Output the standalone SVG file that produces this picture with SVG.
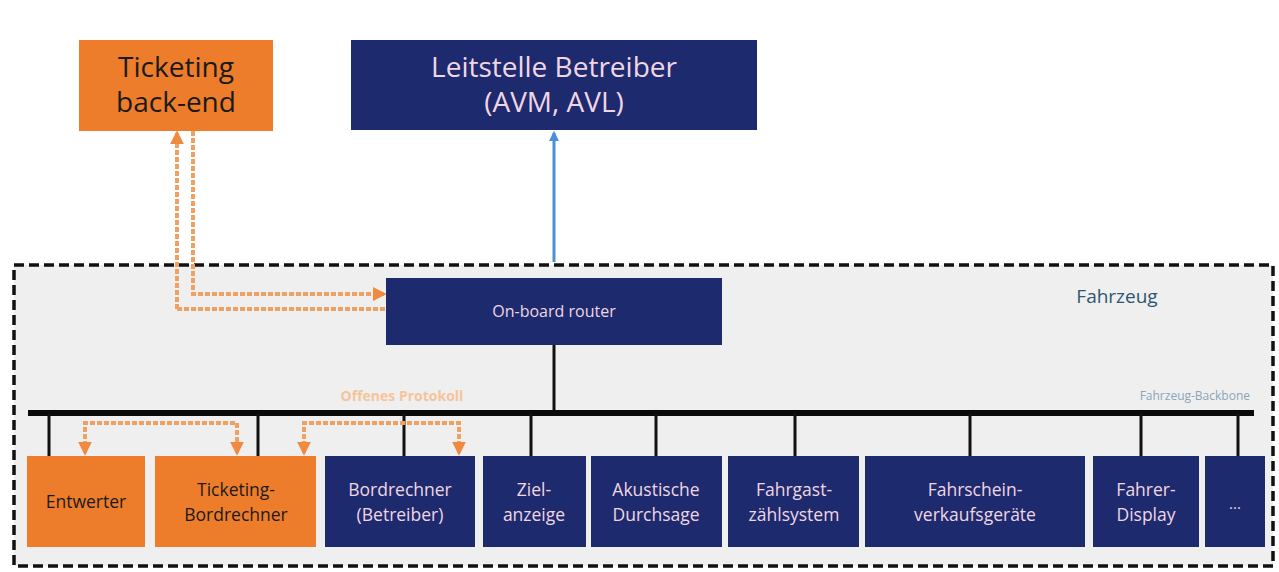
<svg xmlns="http://www.w3.org/2000/svg" width="1279" height="572" viewBox="0 0 1279 572">
<defs>
<style>
.orange{fill:#ee7d2b}
.navy{fill:#1d2a6d}
.tb{font-family:"Open Sans","Liberation Sans",sans-serif;fill:#1a1a1a;text-anchor:middle}
.tw{font-family:"Open Sans","Liberation Sans",sans-serif;fill:#f0d6e4;text-anchor:middle}
.drop{stroke:#111;stroke-width:3;fill:none}
.odot{stroke:#f0a060;stroke-width:4;fill:none;stroke-dasharray:5 2}
</style>
<marker id="oa" viewBox="0 0 10 10" refX="8" refY="5" markerWidth="3.5" markerHeight="3.5" orient="auto-start-reverse"><path d="M0,0 L10,5 L0,10 z" fill="#f08a40"/></marker>
<marker id="ba" viewBox="0 0 10 10" refX="8" refY="5" markerWidth="3.5" markerHeight="3.5" orient="auto-start-reverse"><path d="M0,0 L10,5 L0,10 z" fill="#4a8fd8"/></marker>
</defs>
<rect width="1279" height="572" fill="#ffffff"/>
<g id="fahrzeug">
<rect x="14" y="265" width="1259" height="301" fill="#efefef" stroke="#111" stroke-width="3.5" stroke-dasharray="10 5"/>
<text x="1117" y="303" font-family="'Open Sans','Liberation Sans',sans-serif" font-size="19" fill="#2d5670" text-anchor="middle">Fahrzeug</text>
<text x="1250" y="400" font-family="'Open Sans','Liberation Sans',sans-serif" font-size="12" fill="#8aa5bb" text-anchor="end">Fahrzeug-Backbone</text>
<text x="402" y="401" font-family="'Open Sans','Liberation Sans',sans-serif" font-size="14" font-weight="bold" fill="#f6c49a" text-anchor="middle">Offenes Protokoll</text>
</g>
<g id="connectors">
<line x1="554" y1="262" x2="554" y2="133" stroke="#4a8fd8" stroke-width="3" marker-end="url(#ba)"/>
<line x1="554" y1="345" x2="554" y2="412" class="drop"/>
<line x1="28" y1="413" x2="1254" y2="413" stroke="#0a0a0a" stroke-width="6"/>
<path d="M49 413V456M258 413V456M404 413V456M531 413V456M656 413V456M795 413V456M970 413V456M1141 413V456M1238 413V456" class="drop"/>
<path d="M177 309H386" class="odot"/>
<path d="M177 309V133" class="odot" marker-end="url(#oa)"/>
<path d="M193 131V294H384" class="odot" marker-end="url(#oa)"/>
<path d="M85 453V423H237V453" class="odot" marker-start="url(#oa)" marker-end="url(#oa)"/>
<path d="M304 453V423H459V453" class="odot" marker-start="url(#oa)" marker-end="url(#oa)"/>
</g>
<g id="ticketing-backend">
<rect x="79" y="40" width="194" height="91" class="orange"/>
<text class="tb" x="176" y="77" font-size="28">Ticketing</text>
<text class="tb" x="176" y="112" font-size="28">back-end</text>
</g>
<g id="leitstelle">
<rect x="351" y="40" width="406" height="90" class="navy"/>
<text class="tw" x="554" y="77" font-size="28">Leitstelle Betreiber</text>
<text class="tw" x="554" y="112" font-size="28">(AVM, AVL)</text>
</g>
<g id="router">
<rect x="386" y="278" width="336" height="67" class="navy"/>
<text class="tw" x="554" y="317" font-size="16">On-board router</text>
</g>
<g id="entwerter">
<rect x="27" y="456" width="118" height="91" class="orange"/>
<text class="tb" x="86" y="508" font-size="17.5">Entwerter</text>
</g>
<g id="ticketing-bordrechner">
<rect x="155" y="456" width="161" height="91" class="orange"/>
<text class="tb" x="236" y="496" font-size="17.5">Ticketing-</text>
<text class="tb" x="236" y="521" font-size="17.5">Bordrechner</text>
</g>
<g id="bordrechner">
<rect x="325" y="456" width="150" height="91" class="navy"/>
<text class="tw" x="400" y="496" font-size="17.5">Bordrechner</text>
<text class="tw" x="400" y="521" font-size="17.5">(Betreiber)</text>
</g>
<g id="zielanzeige">
<rect x="483" y="456" width="103" height="91" class="navy"/>
<text class="tw" x="534" y="496" font-size="17.5">Ziel-</text>
<text class="tw" x="534" y="521" font-size="17.5">anzeige</text>
</g>
<g id="durchsage">
<rect x="591" y="456" width="131" height="91" class="navy"/>
<text class="tw" x="656" y="496" font-size="17.5">Akustische</text>
<text class="tw" x="656" y="521" font-size="17.5">Durchsage</text>
</g>
<g id="fahrgast">
<rect x="728" y="456" width="131" height="91" class="navy"/>
<text class="tw" x="794" y="496" font-size="17.5">Fahrgast-</text>
<text class="tw" x="794" y="521" font-size="17.5">zählsystem</text>
</g>
<g id="fahrschein">
<rect x="865" y="456" width="220" height="91" class="navy"/>
<text class="tw" x="975" y="496" font-size="17.5">Fahrschein-</text>
<text class="tw" x="975" y="521" font-size="17.5">verkaufsgeräte</text>
</g>
<g id="fahrer-display">
<rect x="1093" y="456" width="106" height="91" class="navy"/>
<text class="tw" x="1146" y="496" font-size="17.5">Fahrer-</text>
<text class="tw" x="1146" y="521" font-size="17.5">Display</text>
</g>
<g id="more">
<rect x="1205" y="456" width="60" height="91" class="navy"/>
<text class="tw" x="1235" y="509" font-size="15">...</text>
</g>
</svg>
